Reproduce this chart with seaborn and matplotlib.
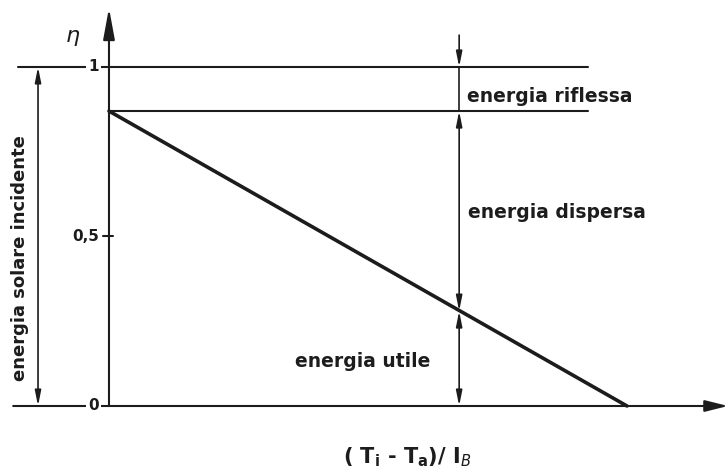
import numpy as np
import pandas as pd
import matplotlib.pyplot as plt
import seaborn as sns

# efficiency line (x normalised so the line reaches eta=0 at x=1)
x_line = [0.0, 1.0]
eta_line = [0.87, 0.0]
eta_levels = [1.0, 0.87]          # incident / after reflection
x_mark = 0.676                    # vertical dimension line
eta_mark = 0.28                   # where it crosses the efficiency line
tick_vals = [1.0, 0.5, 0.0]
tick_labels = ['1', '0,5', '0']
region_labels = ['energia riflessa', 'energia dispersa', 'energia utile']

sns.set_style('white')
plt.rcParams['font.family'] = ['DejaVu Sans']
ink = '#1c1c1c'

fig = plt.figure(figsize=(7.28, 4.72), dpi=100)
ax = fig.add_axes([0, 0, 1, 1])
ax.set_xlim(-0.2104, 1.195)
ax.set_ylim(-0.1947, 1.1976)
ax.axis('off')

df = pd.DataFrame({'x': x_line, 'eta': eta_line})
sns.lineplot(data=df, x='x', y='eta', color=ink, linewidth=2.6, ax=ax)

# horizontal reference lines
ax.plot([-0.176, 0.925], [eta_levels[0]] * 2, color=ink, lw=1.5, zorder=1)
ax.plot([0.0, 0.925], [eta_levels[1]] * 2, color=ink, lw=1.5, zorder=1)

# axes with arrows
ax.annotate('', xy=(1.195, 0), xytext=(-0.185, 0),
            arrowprops=dict(arrowstyle='-|>,head_length=1.4,head_width=0.35', color=ink, lw=1.5,
                            shrinkA=0, shrinkB=0))
ax.annotate('', xy=(0, 1.174), xytext=(0, 0),
            arrowprops=dict(arrowstyle='-|>,head_length=1.9,head_width=0.35', color=ink, lw=1.5,
                            shrinkA=0, shrinkB=0))
ax.plot([-0.0116, 0.0077], [0.5, 0.5], color=ink, lw=1.5)

# tick labels (white box breaks the lines like in the drawing)
for v, lab in zip(tick_vals, tick_labels):
    ax.text(-0.02, v, lab, ha='right', va='center', fontsize=11, fontweight='bold', color=ink,
            bbox=dict(boxstyle='square,pad=0.15', fc='white', ec='none'), zorder=3)

# dimension arrows
dim = dict(arrowstyle='<|-|>,head_length=0.9,head_width=0.18', color=ink, lw=1.2, shrinkA=0, shrinkB=0)
ax.annotate('', xy=(-0.137, 1.0), xytext=(-0.137, 0.0), arrowprops=dim)
ax.text(-0.172, 0.437, 'energia solare incidente', rotation=90, ha='center', va='center',
        fontsize=13, fontweight='bold', color=ink)

ax.annotate('', xy=(x_mark, eta_levels[0]), xytext=(x_mark, 1.094),
            arrowprops=dict(dim, arrowstyle='-|>,head_length=0.9,head_width=0.18'))
ax.plot([x_mark, x_mark], [eta_levels[1], eta_levels[0]], color=ink, lw=1.2)
ax.annotate('', xy=(x_mark, eta_levels[1]), xytext=(x_mark, eta_mark), arrowprops=dim)
ax.annotate('', xy=(x_mark, eta_mark), xytext=(x_mark, 0.0), arrowprops=dim)

# region labels
ax.text(0.691, 0.912, region_labels[0], ha='left', va='center', fontsize=13.5, fontweight='bold', color=ink)
ax.text(0.693, 0.572, region_labels[1], ha='left', va='center', fontsize=13.5, fontweight='bold', color=ink)
ax.text(0.359, 0.130, region_labels[2], ha='left', va='center', fontsize=13.5, fontweight='bold', color=ink)

# axis labels
ax.text(-0.071, 1.085, r'$\eta$', ha='center', va='center', fontsize=16, color=ink)
ax.text(0.575, -0.150, r'( T$_{\mathbf{i}}$ - T$_{\mathbf{a}}$)/ I$_{B}$', ha='center', va='center',
        fontsize=15, fontweight='bold', color=ink)

fig.savefig('out.png', dpi=100, facecolor='white')
